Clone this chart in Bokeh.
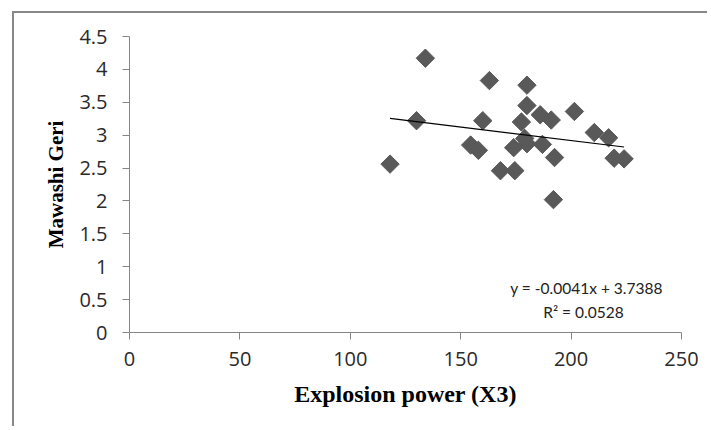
import numpy as np
from bokeh.plotting import figure
from bokeh.models import Label, Range1d, FixedTicker
from bokeh.embed import file_html
from bokeh.resources import INLINE

# ---- data ----
explosion_power = [134, 163, 180, 180, 201.5, 130, 160, 186, 191, 177.5,
                   210.5, 217, 179, 180, 187, 174, 154.5, 158, 192.5, 219.5,
                   224, 118, 168, 174.5, 192]
mawashi_geri = [4.17, 3.83, 3.76, 3.45, 3.36, 3.22, 3.22, 3.31, 3.23, 3.20,
                3.04, 2.96, 2.95, 2.87, 2.86, 2.81, 2.85, 2.77, 2.66, 2.65,
                2.64, 2.56, 2.46, 2.46, 2.02]

trend_slope = -0.0041
trend_intercept = 3.7388
r_squared = 0.0528

x_ticks = [0, 50, 100, 150, 200, 250]
x_tick_labels = ["0", "50", "100", "150", "200", "250"]
y_ticks = [0, 0.5, 1, 1.5, 2, 2.5, 3, 3.5, 4, 4.5]
y_tick_labels = ["0", "0.5", "1", "1.5", "2", "2.5", "3", "3.5", "4", "4.5"]

x_title = "Explosion power (X3)"
y_title = "Mawashi Geri"

# ---- figure ----
W, H = 695, 415
p = figure(width=W, height=H, output_backend="svg", toolbar_location=None,
           x_range=Range1d(0, 250), y_range=Range1d(0, 4.5),
           min_border_left=115, min_border_right=W - 115 - 552,
           min_border_top=23, min_border_bottom=H - 23 - 296)
p.styles = {"margin-left": "12px", "margin-top": "11px",
            "border-left": "2px solid #888888",
            "border-top": "2px solid #888888"}
p.background_fill_color = "white"
p.border_fill_color = "white"
p.outline_line_color = None
p.xgrid.visible = False
p.ygrid.visible = False

tick_font = "Open Sans"
axis_gray = "#868686"

for ax in (p.xaxis[0], p.yaxis[0]):
    ax.axis_line_color = axis_gray
    ax.major_tick_line_color = axis_gray
    ax.axis_line_width = 1
    ax.major_tick_out = 7
    ax.major_tick_in = 0
    ax.minor_tick_line_color = None
    ax.major_label_text_font = tick_font
    ax.major_label_text_font_size = "20px"
    ax.major_label_text_color = "#2a2a2a"
    ax.axis_label_text_font = "Liberation Serif"
    ax.axis_label_text_font_style = "bold"
    ax.axis_label_text_color = "black"

p.xaxis.axis_label_text_font_size = "24px"
p.yaxis.axis_label_text_font_size = "21px"
p.xaxis.ticker = FixedTicker(ticks=x_ticks)
p.yaxis.ticker = FixedTicker(ticks=y_ticks)
p.xaxis.major_label_overrides = dict(zip(x_ticks, x_tick_labels))
p.yaxis.major_label_overrides = dict(zip(y_ticks, y_tick_labels))
p.xaxis.major_label_standoff = 12
p.yaxis.major_label_standoff = 15
p.xaxis.axis_label = x_title
p.yaxis.axis_label = y_title
p.xaxis.axis_label_standoff = 12
p.yaxis.axis_label_standoff = 8

# scatter (diamonds)
p.scatter(explosion_power, mawashi_geri, marker="square", angle=np.pi / 4,
          size=13, fill_color="#595959", line_color="#595959", line_width=1)

# linear trendline over data range
tx = np.array([min(explosion_power), max(explosion_power)])
ty = trend_intercept + trend_slope * tx
p.line(tx, ty, line_color="black", line_width=1.2)

# equation labels
p.add_layout(Label(x=207, y=0.67, text=f"y = {trend_slope}x + {trend_intercept}",
                   text_align="center", text_baseline="middle",
                   text_font="Lato", text_font_size="15.5px", text_color="#222222"))
p.add_layout(Label(x=205.6, y=0.31, text=f"R\u00b2 = {r_squared}",
                   text_align="center", text_baseline="middle",
                   text_font="Lato", text_font_size="15.5px", text_color="#222222"))

open("out.html", "w").write(file_html(p, INLINE))
